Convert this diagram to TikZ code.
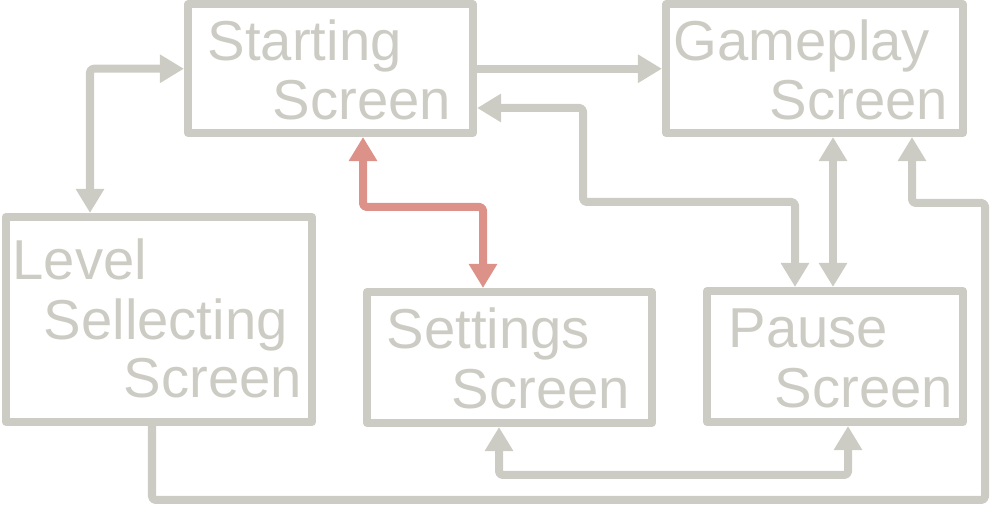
\documentclass[tikz,border=0pt]{standalone}
\usepackage{fontspec}
\setmainfont{Liberation Sans}
\usepackage{tikz}
\usetikzlibrary{arrows.meta, positioning, calc}
\definecolor{screenGray}{HTML}{CDCCC4}
\definecolor{screenRed}{HTML}{DC9289}

\begin{document}
\begin{tikzpicture}[
    x=0.01cm, y=-0.01cm,
    screen/.style={draw=screenGray, line width=0.08cm, line join=round, rectangle, inner sep=0pt},
    link/.style={color=screenGray, line width=0.08cm, line join=round, rounded corners=1pt,
        {Triangle[length=0.24cm, width=0.27cm]}-{Triangle[length=0.24cm, width=0.27cm]}},
    oneway/.style={color=screenGray, line width=0.08cm, line join=round, rounded corners=1pt,
        -{Triangle[length=0.24cm, width=0.27cm]}},
    caption/.style={anchor=base west, inner sep=0pt, text=screenGray, font=\fontsize{16pt}{19pt}\selectfont},
]
    \useasboundingbox (0,0) rectangle (1000,516);

    % Screens
    \node[screen, minimum width=2.85cm, minimum height=1.285cm] (start) at (330.5, 68.75) {};
    \node[screen, minimum width=2.97cm, minimum height=1.285cm] (game) at (814.5, 68.75) {};
    \node[screen, minimum width=3.06cm, minimum height=2.05cm] (level) at (159, 319.5) {};
    \node[screen, minimum width=2.85cm, minimum height=1.31cm] (set) at (509.5, 357.5) {};
    \node[screen, minimum width=2.56cm, minimum height=1.31cm] (pause) at (835, 356.5) {};

    % Texts
    \node[caption] (startA) at (207, 61) {Starting};
    \node[caption] (startB) at (272, 120) {Screen};
    \node[caption] (gameA) at (673, 61) {Gameplay};
    \node[caption] (gameB) at (769, 120) {Screen};
    \node[caption] (levelA) at (12, 280) {Level};
    \node[caption] (levelB) at (43, 340) {Sellecting};
    \node[caption] (levelC) at (123, 398) {Screen};
    \node[caption] (setA) at (386, 349) {Settings};
    \node[caption] (setB) at (451, 409) {Screen};
    \node[caption] (pauseA) at (728, 348) {Pause};
    \node[caption] (pauseB) at (774, 408) {Screen};

    % Connectors
    \draw[link] (start.west) -| (level.north -| 90,0);
    \draw[oneway] (start.east) -- (game.west);
    \draw[link] (start.east |- 0,108) -| (583,202) -| (pause.north -| 795,0);
    \draw[link] (game.south -| 833,0) -- (pause.north -| 833,0);
    \draw[oneway] (level.south -| 152,0) |- (985,500) |- (912,203) -- (game.south -| 912,0);
    \draw[link] (set.south -| 499,0) |- (848,475) -- (pause.south -| 848,0);
    \draw[link, color=screenRed] (start.south -| 363,0) |- (483,207) -- (set.north -| 483,0);
\end{tikzpicture}
\end{document}
